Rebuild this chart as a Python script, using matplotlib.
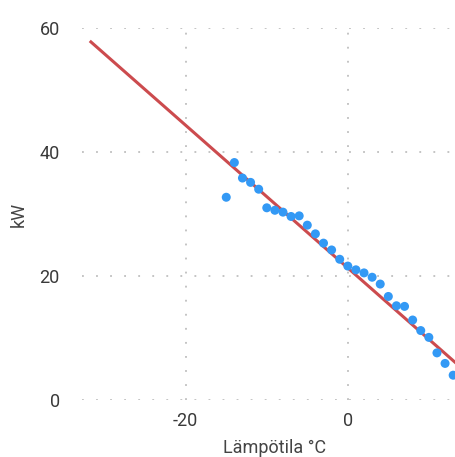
import numpy as np
import matplotlib
matplotlib.use("Agg")
import matplotlib.pyplot as plt

# mitattu teho lämpötilan funktiona
temp_c = [-15, -14, -13, -12, -11, -10, -9, -8, -7, -6, -5, -4, -3, -2, -1,
          0, 1, 2, 3, 4, 5, 6, 7, 8, 9, 10, 11, 12, 13, 14]
power_kw = [32.7, 38.3, 35.8, 35.1, 34.0, 31.0, 30.6, 30.3, 29.6, 29.7, 28.2,
            26.8, 25.3, 24.2, 22.7, 21.6, 21.0, 20.5, 19.8, 18.7, 16.7, 15.2,
            15.1, 12.9, 11.2, 10.1, 7.6, 5.9, 4.0, 3.0]

# sovitettu suora
fit_slope = -1.15
fit_intercept = 21.3
fit_x = [-31.7, 16]

x_ticks = [-20, 0]
y_ticks = [0, 20, 40, 60]

plt.rcParams["font.family"] = ["Roboto", "DejaVu Sans"]
plt.rcParams["axes.unicode_minus"] = False

fig = plt.figure(figsize=(4.56, 4.57), dpi=100)
ax = fig.add_axes([82 / 456, 57 / 457, 374 / 456, 372 / 457])

fx = np.array(fit_x)
ax.plot(fx, fit_intercept + fit_slope * fx, color="#cc4b4e", lw=2.2, zorder=2)
ax.scatter(temp_c, power_kw, s=42, color="#3399f5", edgecolors="none", zorder=3)

ax.set_xlim(-32.8, 13.35)
ax.set_ylim(0, 60)
ax.set_xticks(x_ticks)
ax.set_yticks(y_ticks)

for s in ax.spines.values():
    s.set_visible(False)
ax.tick_params(length=0, labelsize=13, labelcolor="#3a3a3a")
ax.tick_params(axis="y", pad=16)
ax.tick_params(axis="x", pad=9)
ax.grid(True, color="#b4b4b4", linestyle=(0, (1.2, 8)), lw=1.1)
ax.set_axisbelow(True)

ax.set_xlabel("Lämpötila °C", fontsize=13, color="#444444")
ax.set_ylabel("kW", fontsize=13, color="#444444")
ax.xaxis.set_label_coords((275 - 82) / 374, -0.105)
ax.yaxis.set_label_coords(-0.145, 0.5)

fig.savefig("out.png", dpi=100)
